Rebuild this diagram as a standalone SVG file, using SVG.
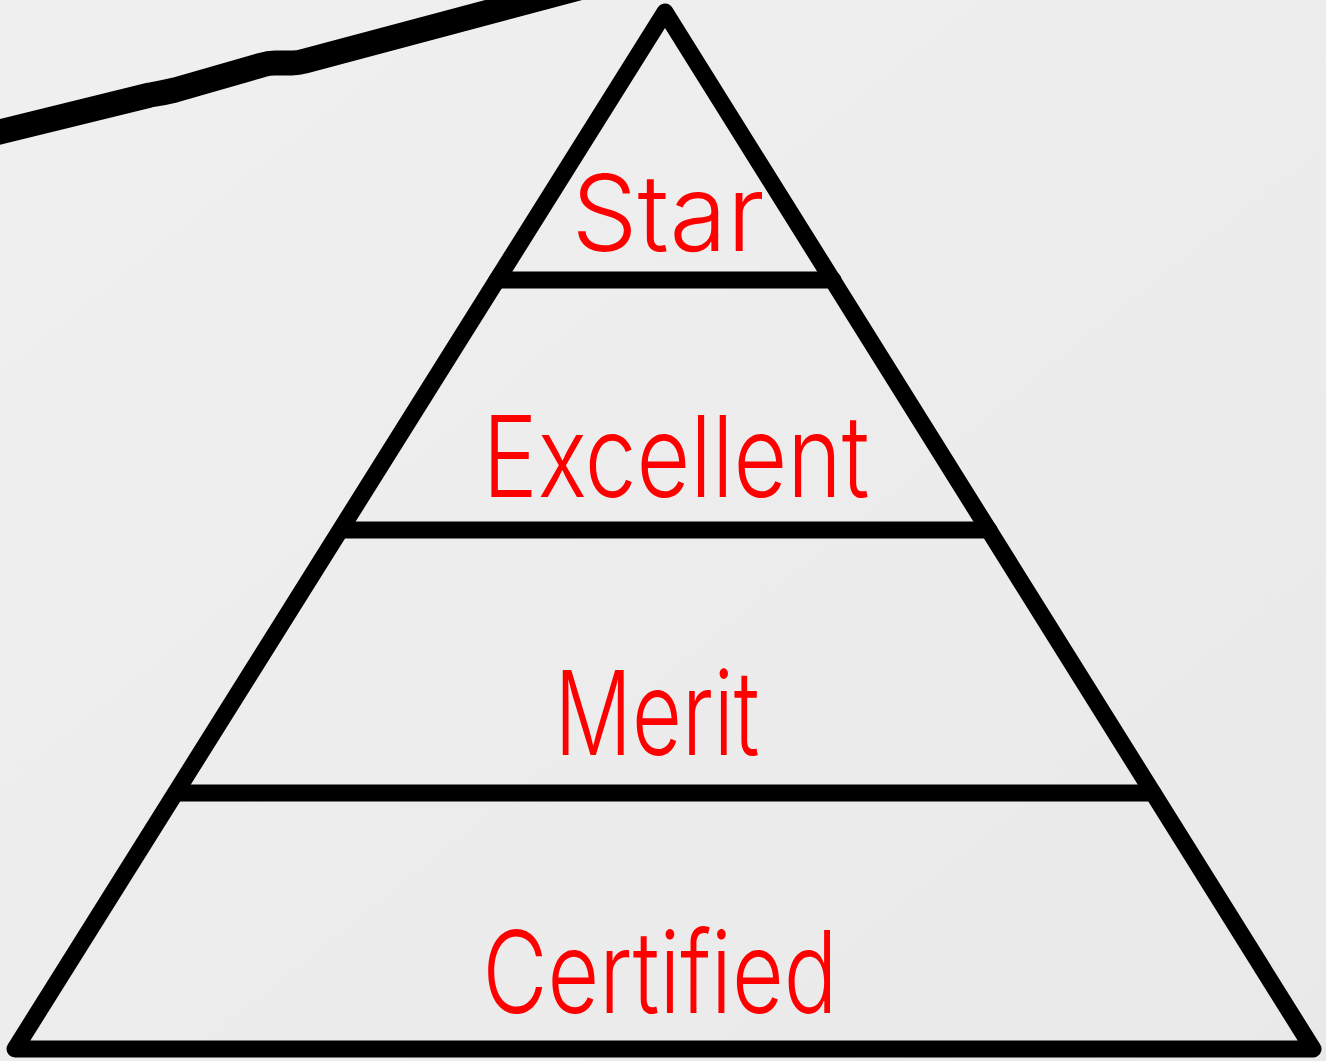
<svg xmlns="http://www.w3.org/2000/svg" width="1326" height="1061" viewBox="0 0 1326 1061">
  <defs>
    <linearGradient id="bg" x1="0" y1="0" x2="1" y2="1">
      <stop offset="0" stop-color="#f0f0f0"/>
      <stop offset="1" stop-color="#e9e9e9"/>
    </linearGradient>
  </defs>
  <style>
    .edge { fill: none; stroke: #000; stroke-width: 17; stroke-linejoin: round; stroke-linecap: round; }
    .lbl { font-family: "Inter", "Liberation Sans", sans-serif; font-weight: 300; fill: #ff0000; text-anchor: middle; }
  </style>
  <rect width="1326" height="1061" fill="url(#bg)"/>
  <g id="connectors">
    <path d="M -5 133 L 150 95 Q 163 93 175 90 L 262 65 Q 268 63 275 63 L 292 63 Q 298 63 305 61 L 620 -23" fill="none" stroke="#000" stroke-width="25" stroke-linejoin="round" stroke-linecap="round"/>
  </g>
  <g id="pyramid">
    <path class="edge" d="M 665 12 L 1313 1049 L 15 1049 Z"/>
    <line class="edge" x1="497" y1="280" x2="833" y2="280"/>
    <line class="edge" x1="341" y1="530" x2="989" y2="530"/>
    <line class="edge" x1="177" y1="793" x2="1153" y2="793"/>
  </g>
  <g id="star"><text class="lbl" x="668" y="251" font-size="106" textLength="193" lengthAdjust="spacingAndGlyphs">Star</text></g>
  <g id="excellent"><text class="lbl" x="676" y="497" font-size="113" textLength="387" lengthAdjust="spacingAndGlyphs">Excellent</text></g>
  <g id="merit"><text class="lbl" x="657" y="755" font-size="117" textLength="205" lengthAdjust="spacingAndGlyphs">Merit</text></g>
  <g id="certified"><text class="lbl" x="660" y="1013" font-size="114" textLength="355" lengthAdjust="spacingAndGlyphs">Certified</text></g>
</svg>
